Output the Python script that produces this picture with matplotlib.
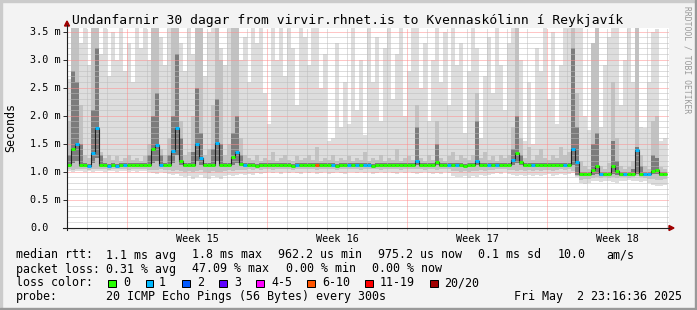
import numpy as np
import matplotlib
matplotlib.use("Agg")
import matplotlib.pyplot as plt
from matplotlib.patches import Rectangle, Polygon
from matplotlib.lines import Line2D
from matplotlib.transforms import blended_transform_factory, offset_copy

# --- data: 150 bins of 0.2 day (30 days), values in ms ---
med = [
    1.12, 1.40, 1.50, 1.12, 1.12, 1.11, 1.33, 1.78, 1.12, 1.12,
    1.11, 1.12, 1.11, 1.12, 1.12, 1.12, 1.13, 1.12, 1.12, 1.12,
    1.12, 1.40, 1.48, 1.13, 1.12, 1.12, 1.38, 1.79, 1.20, 1.12,
    1.12, 1.12, 1.49, 1.24, 1.12, 1.12, 1.12, 1.51, 1.13, 1.12,
    1.12, 1.26, 1.36, 1.14, 1.12, 1.12, 1.12, 1.11, 1.12, 1.12,
    1.12, 1.12, 1.13, 1.12, 1.12, 1.12, 1.11, 1.12, 1.12, 1.12,
    1.12, 1.12, 1.13, 1.12, 1.12, 1.12, 1.12, 1.11, 1.12, 1.12,
    1.12, 1.12, 1.12, 1.12, 1.12, 1.12, 1.11, 1.12, 1.12, 1.12,
    1.12, 1.12, 1.12, 1.13, 1.12, 1.12, 1.12, 1.20, 1.12, 1.12,
    1.12, 1.12, 1.17, 1.12, 1.12, 1.12, 1.12, 1.12, 1.12, 1.11,
    1.12, 1.12, 1.19, 1.12, 1.12, 1.12, 1.12, 1.12, 1.12, 1.12,
    1.12, 1.22, 1.34, 1.18, 1.12, 1.12, 1.12, 1.12, 1.12, 1.12,
    1.12, 1.12, 1.12, 1.12, 1.12, 1.12, 1.40, 1.18, 0.96, 0.96,
    0.96, 1.04, 1.11, 0.96, 0.96, 0.96, 1.11, 1.02, 0.96, 0.96,
    0.96, 0.96, 1.39, 0.96, 0.96, 0.96, 1.02, 1.03, 0.96, 0.96,
]
loss = [
    0, 0, 1, 0, 0, 1, 1, 1, 0, 0,
    1, 0, 1, 0, 1, 0, 0, 0, 0, 0,
    0, 0, 1, 1, 0, 0, 1, 1, 0, 0,
    0, 0, 1, 1, 0, 0, 0, 1, 0, 0,
    0, 0, 1, 0, 1, 0, 0, 0, 0, 0,
    0, 0, 0, 0, 0, 0, 0, 1, 0, 0,
    0, 0, 5, 0, 0, 0, 1, 0, 0, 0,
    1, 0, 1, 0, 1, 1, 0, 0, 0, 0,
    0, 0, 0, 0, 0, 0, 0, 1, 0, 0,
    0, 0, 0, 0, 0, 1, 0, 1, 0, 0,
    0, 0, 1, 0, 0, 1, 0, 1, 0, 0,
    0, 1, 0, 0, 0, 0, 1, 0, 0, 0,
    0, 0, 0, 0, 1, 0, 1, 1, 0, 0,
    0, 0, 0, 1, 0, 0, 0, 0, 0, 1,
    0, 0, 1, 0, 1, 1, 0, 0, 0, 0,
]
ping_min = [
    1.01, 1.00, 1.02, 1.01, 1.00, 1.01, 1.00, 1.02, 1.01, 1.00,
    1.01, 1.01, 1.00, 1.02, 1.01, 1.00, 1.01, 1.00, 1.01, 1.02,
    1.00, 0.98, 0.97, 0.99, 0.98, 0.96, 0.95, 0.97, 0.92, 0.90,
    0.93, 0.88, 0.91, 0.94, 0.89, 0.87, 0.92, 0.90, 0.88, 0.93,
    0.95, 0.92, 0.94, 0.96, 0.95, 0.97, 0.95, 0.98, 0.96, 0.98,
    0.99, 0.98, 0.99, 0.97, 0.99, 0.98, 0.99, 0.98, 0.97, 0.99,
    0.98, 0.99, 0.96, 0.98, 0.99, 0.97, 0.98, 0.99, 0.98, 0.97,
    0.99, 0.99, 0.98, 0.99, 0.98, 0.99, 0.97, 0.98, 0.99, 0.98,
    0.99, 0.98, 0.97, 0.99, 0.98, 0.99, 0.98, 0.97, 0.98, 0.99,
    0.98, 0.96, 0.98, 0.97, 0.99, 0.98, 0.93, 0.91, 0.90, 0.92,
    0.89, 0.93, 0.91, 0.94, 0.92, 0.95, 0.96, 0.98, 0.97, 0.99,
    0.96, 0.94, 0.93, 0.95, 0.92, 0.94, 0.93, 0.95, 0.92, 0.94,
    0.96, 0.93, 0.95, 0.97, 0.95, 0.96, 0.98, 0.90, 0.80, 0.79,
    0.81, 0.83, 0.84, 0.82, 0.84, 0.83, 0.82, 0.81, 0.84, 0.83,
    0.85, 0.84, 0.84, 0.82, 0.83, 0.80, 0.77, 0.74, 0.75, 0.76,
]
ping_p10 = [
    1.05, 1.04, 1.06, 1.05, 1.05, 1.04, 1.05, 1.06, 1.05, 1.05,
    1.04, 1.05, 1.05, 1.06, 1.05, 1.04, 1.05, 1.05, 1.06, 1.05,
    1.04, 1.03, 1.04, 1.05, 1.04, 1.03, 1.02, 1.04, 1.01, 1.00,
    1.02, 0.99, 1.01, 1.03, 1.00, 0.98, 1.01, 1.00, 0.99, 1.02,
    1.03, 1.01, 1.03, 1.04, 1.03, 1.05, 1.04, 1.05, 1.04, 1.05,
    1.05, 1.04, 1.05, 1.05, 1.06, 1.05, 1.04, 1.05, 1.05, 1.06,
    1.05, 1.05, 1.04, 1.05, 1.06, 1.05, 1.05, 1.04, 1.05, 1.05,
    1.06, 1.05, 1.05, 1.04, 1.05, 1.06, 1.05, 1.05, 1.04, 1.05,
    1.05, 1.06, 1.05, 1.04, 1.05, 1.05, 1.06, 1.05, 1.05, 1.04,
    1.05, 1.05, 1.04, 1.05, 1.06, 1.05, 1.02, 1.01, 1.00, 1.02,
    0.99, 1.02, 1.01, 1.03, 1.02, 1.04, 1.04, 1.05, 1.05, 1.06,
    1.04, 1.03, 1.02, 1.04, 1.02, 1.03, 1.02, 1.04, 1.02, 1.03,
    1.04, 1.02, 1.04, 1.05, 1.04, 1.05, 1.02, 0.92, 0.86, 0.87,
    0.88, 0.89, 0.90, 0.89, 0.90, 0.89, 0.90, 0.89, 0.90, 0.90,
    0.89, 0.90, 0.92, 0.90, 0.89, 0.88, 0.87, 0.86, 0.86, 0.87,
]
ping_p25 = [
    1.09, 1.15, 1.20, 1.09, 1.09, 1.08, 1.15, 1.25, 1.09, 1.09,
    1.08, 1.09, 1.08, 1.09, 1.09, 1.09, 1.10, 1.09, 1.09, 1.09,
    1.09, 1.15, 1.20, 1.10, 1.09, 1.09, 1.15, 1.30, 1.12, 1.09,
    1.09, 1.09, 1.20, 1.12, 1.09, 1.09, 1.09, 1.20, 1.10, 1.09,
    1.09, 1.12, 1.15, 1.10, 1.09, 1.09, 1.09, 1.08, 1.09, 1.09,
    1.09, 1.09, 1.10, 1.09, 1.09, 1.09, 1.08, 1.09, 1.09, 1.09,
    1.09, 1.09, 1.10, 1.09, 1.09, 1.09, 1.09, 1.08, 1.09, 1.09,
    1.09, 1.09, 1.09, 1.09, 1.09, 1.09, 1.08, 1.09, 1.09, 1.09,
    1.09, 1.09, 1.09, 1.10, 1.09, 1.09, 1.09, 1.12, 1.09, 1.09,
    1.09, 1.09, 1.12, 1.09, 1.09, 1.09, 1.09, 1.09, 1.09, 1.08,
    1.09, 1.09, 1.12, 1.09, 1.09, 1.09, 1.09, 1.09, 1.09, 1.09,
    1.09, 1.12, 1.15, 1.12, 1.09, 1.09, 1.09, 1.09, 1.09, 1.09,
    1.09, 1.09, 1.09, 1.09, 1.09, 1.09, 1.12, 0.95, 0.93, 0.93,
    0.93, 0.95, 0.96, 0.93, 0.93, 0.93, 0.96, 0.95, 0.93, 0.93,
    0.93, 0.93, 0.96, 0.93, 0.93, 0.93, 0.96, 0.96, 0.93, 0.93,
]
ping_p75 = [
    1.30, 2.80, 2.60, 1.50, 1.15, 1.14, 2.10, 3.20, 1.30, 1.15,
    1.14, 1.15, 1.14, 1.15, 1.15, 1.15, 1.16, 1.15, 1.15, 1.15,
    1.30, 2.00, 2.40, 1.30, 1.15, 1.30, 2.00, 3.10, 1.60, 1.15,
    1.15, 1.35, 2.50, 1.70, 1.15, 1.15, 1.40, 2.30, 1.50, 1.15,
    1.15, 1.70, 2.00, 1.30, 1.15, 1.15, 1.15, 1.14, 1.15, 1.15,
    1.15, 1.15, 1.16, 1.15, 1.15, 1.15, 1.14, 1.15, 1.15, 1.15,
    1.15, 1.15, 1.16, 1.15, 1.15, 1.15, 1.15, 1.14, 1.15, 1.15,
    1.15, 1.15, 1.15, 1.15, 1.15, 1.15, 1.14, 1.15, 1.15, 1.15,
    1.15, 1.15, 1.15, 1.16, 1.15, 1.15, 1.15, 1.80, 1.15, 1.15,
    1.15, 1.15, 1.50, 1.15, 1.15, 1.15, 1.15, 1.15, 1.15, 1.14,
    1.15, 1.15, 1.90, 1.15, 1.15, 1.15, 1.15, 1.15, 1.15, 1.15,
    1.15, 1.40, 2.00, 1.30, 1.15, 1.15, 1.15, 1.15, 1.15, 1.15,
    1.15, 1.15, 1.15, 1.15, 1.15, 1.15, 3.20, 1.80, 0.99, 0.99,
    0.99, 1.50, 1.70, 0.99, 0.99, 0.99, 1.55, 1.20, 0.99, 0.99,
    0.99, 1.05, 1.45, 1.10, 0.99, 0.99, 1.30, 1.25, 0.99, 0.99,
]
ping_p90 = [
    1.90, 3.60, 3.60, 2.20, 1.30, 1.25, 3.60, 3.60, 1.35, 1.25,
    1.30, 1.22, 1.28, 1.20, 1.25, 1.30, 1.22, 1.25, 1.20, 1.28,
    1.50, 3.60, 3.60, 1.40, 1.30, 1.60, 3.60, 3.60, 1.90, 1.30,
    1.35, 2.00, 3.60, 3.60, 1.30, 1.40, 2.20, 3.60, 3.00, 1.30,
    1.50, 3.60, 3.60, 1.60, 1.30, 1.25, 1.22, 1.30, 1.20, 1.25,
    1.22, 1.35, 1.20, 1.25, 1.30, 1.22, 1.20, 1.28, 1.22, 1.25,
    1.30, 1.22, 1.45, 1.20, 1.25, 1.22, 1.30, 1.20, 1.25, 1.22,
    1.28, 1.20, 1.25, 1.22, 1.35, 1.20, 1.25, 1.22, 1.30, 1.20,
    1.25, 1.22, 1.40, 1.20, 1.25, 1.28, 1.22, 2.20, 1.25, 1.20,
    1.30, 1.22, 1.90, 1.25, 1.20, 1.28, 1.35, 1.22, 1.30, 1.25,
    1.22, 1.30, 2.40, 1.25, 1.35, 1.22, 1.28, 1.20, 1.30, 1.25,
    1.30, 1.80, 3.60, 1.60, 1.25, 1.45, 1.22, 1.30, 1.40, 1.25,
    1.22, 1.30, 1.25, 1.45, 1.30, 1.35, 3.60, 2.40, 1.20, 1.10,
    1.05, 3.30, 3.60, 1.10, 1.05, 1.15, 2.60, 1.60, 1.10, 1.05,
    1.08, 1.20, 3.60, 1.30, 1.10, 1.05, 1.90, 2.00, 1.08, 1.05,
]
ping_max = [
    2.65, 3.60, 3.60, 3.30, 3.60, 2.90, 3.60, 3.60, 3.10, 3.60,
    2.70, 3.50, 3.00, 3.60, 2.80, 3.30, 2.60, 3.60, 3.20, 3.60,
    3.00, 3.60, 3.60, 3.40, 2.90, 3.60, 3.60, 3.60, 3.30, 2.80,
    3.60, 3.10, 3.60, 3.60, 2.70, 3.50, 3.60, 3.60, 3.20, 2.90,
    3.60, 3.60, 3.60, 3.00, 3.40, 2.60, 3.60, 3.30, 3.60, 2.40,
    1.85, 3.60, 3.00, 3.60, 2.70, 3.60, 3.20, 2.20, 3.60, 3.40,
    2.90, 3.60, 3.60, 2.50, 3.10, 1.55, 1.60, 3.30, 1.80, 2.60,
    1.85, 3.60, 2.10, 3.00, 1.65, 3.60, 2.60, 3.40, 1.90, 3.20,
    3.60, 2.30, 3.10, 3.60, 2.00, 2.80, 3.60, 3.60, 2.50, 3.30,
    1.90, 3.00, 3.60, 2.60, 3.50, 2.20, 3.60, 2.90, 3.30, 1.70,
    2.80, 3.60, 3.20, 1.60, 2.70, 3.40, 2.40, 3.60, 2.90, 2.10,
    3.30, 3.60, 3.60, 3.00, 1.55, 2.60, 1.50, 3.20, 2.80, 3.60,
    2.30, 3.50, 1.85, 2.90, 3.60, 3.60, 3.60, 3.60, 3.60, 2.00,
    1.75, 3.30, 3.60, 1.80, 2.90, 3.40, 3.60, 3.60, 2.20, 3.00,
    3.60, 2.60, 3.60, 1.80, 1.78, 2.60, 3.50, 3.55, 1.55, 1.60,
]

loss_labels = ["0", "1", "2", "3", "4-5", "6-10", "11-19", "20/20"]
loss_colors = ["#26ff00", "#00b8ff", "#0059ff", "#5e00ff",
               "#ff00ff", "#ff5500", "#ff0000", "#a10000"]
week_starts = [3, 10, 17, 24]
week_labels = ["Week 15", "Week 16", "Week 17", "Week 18"]
y_ticks = [0.0, 0.5, 1.0, 1.5, 2.0, 2.5, 3.0, 3.5]
y_labels = ["0.0", "0.5 m", "1.0 m", "1.5 m", "2.0 m", "2.5 m", "3.0 m", "3.5 m"]

title = "Undanfarnir 30 dagar from virvir.rhnet.is to Kvennaskólinn í Reykjavík"

W, H = 697, 310
plt.rcParams["font.family"] = "DejaVu Sans Mono"
plt.rcParams["lines.scale_dashes"] = False

fig = plt.figure(figsize=(W / 100, H / 100), dpi=100, facecolor="#f3f3f3")


def fx(x):
    return x / W


def fy(y):
    return 1 - y / H


ax = fig.add_axes([fx(67), fy(228), 602 / W, 200 / H])
ax.set_xlim(0, 30.1)
ax.set_ylim(0, 3.564)
ax.set_facecolor("white")
for s in ax.spines.values():
    s.set_visible(False)

edges = np.linspace(0, 30, len(med) + 1)

# smoke
ax.stairs(ping_max, edges, baseline=ping_min, fill=True, color="#dddddd", lw=0, zorder=1)
ax.stairs(ping_p90, edges, baseline=ping_p10, fill=True, color="#c2c2c2", lw=0, zorder=1.1)
ax.stairs(ping_p75, edges, baseline=ping_p25, fill=True, color="#7c7c7c", lw=0, zorder=1.2)

# grid (dotted, 1px on / 1px off)
dot = (0, (0.72, 0.72))
for i in range(1, 36):
    major = i % 5 == 0
    ax.axhline(i / 10, color="#ff8c8c" if major else "#bdbdbd", lw=0.72,
               ls=dot, zorder=3, snap=True)
for d in range(1, 31):
    major = d in week_starts
    ax.axvline(d, color="#ff8c8c" if major else "#bdbdbd", lw=0.72,
               ls=dot, zorder=3, snap=True)

# median: thin dark line, then loss-coloured segments
ax.stairs(med, edges, baseline=None, color="#202020", lw=0.8, zorder=4)
ax.hlines(med, edges[:-1], edges[1:], colors=[loss_colors[i] for i in loss],
          lw=2.16, zorder=5)

# ticks
ax.set_yticks(y_ticks)
ax.tick_params(axis="y", which="major", length=3, width=0.72, color="#303030",
               labelleft=False)
ax.set_xticks([w + 3.5 for w in week_starts], labels=week_labels)
ax.tick_params(axis="x", which="major", length=0, pad=4.5, labelsize=7.3)
ax.set_xticks(range(1, 30), minor=True)
ax.tick_params(axis="x", which="minor", length=1.5, width=0.72, color="#b0b0b0")
for t, d in zip(ax.xaxis.get_minor_ticks(), range(1, 30)):
    if d in week_starts:
        t.tick1line.set_color("#ff0000")

base = blended_transform_factory(ax.transAxes, ax.transData)
for v, lab in zip(y_ticks, y_labels):
    off = -18.5 if v == 0 else -6.5
    ax.text(0, v, lab, transform=offset_copy(base, fig=fig, x=off, y=0, units="dots"),
            ha="right", va="center", fontsize=7.3)

# axis lines with arrows
fig.add_artist(Line2D([fx(63), fx(669)], [fy(228), fy(228)], color="#202020", lw=0.8))
fig.add_artist(Line2D([fx(67), fx(67)], [fy(230), fy(25)], color="#202020", lw=0.8))
fig.add_artist(Polygon([[fx(64.5), fy(26)], [fx(69.5), fy(26)], [fx(67), fy(21)]],
                       closed=True, color="#a00000", transform=fig.transFigure))
fig.add_artist(Polygon([[fx(669), fy(225.5)], [fx(669), fy(230.5)], [fx(674), fy(228)]],
                       closed=True, color="#a00000", transform=fig.transFigure))

# texts
fig.text(fx(348), fy(24), title, ha="center", va="baseline", fontsize=9.4)
fig.text(fx(10.5), fy(127), "Seconds", rotation=90, ha="center", va="center", fontsize=8.4)
fig.text(fx(686.5), fy(60), "RRDTOOL / TOBI OETIKER", rotation=-90, ha="center",
         va="center", fontsize=5.8, color="#999999")

fs = 8.4
row1 = [("median rtt:", 16), ("1.1 ms avg", 106.3), ("1.8 ms max", 192.3),
        ("962.2 us min", 278.3), ("975.2 us now", 378.3), ("0.1 ms sd", 478.3),
        ("10.0", 557.3), ("am/s", 606)]
row2 = [("packet loss:", 16), ("0.31 % avg", 106.3), ("47.09 % max", 192.3),
        ("0.00 % min", 285.8), ("0.00 % now", 372.5)]
for txt, x in row1:
    fig.text(fx(x), fy(258.5), txt, va="baseline", fontsize=fs)
for txt, x in row2:
    fig.text(fx(x), fy(272.5), txt, va="baseline", fontsize=fs)

fig.text(fx(16), fy(286.3), "loss color:", va="baseline", fontsize=fs)
box_x = [108.3, 145.7, 182.3, 219, 256, 307.3, 365, 430]
lab_x = [123.3, 159, 197.3, 234.3, 271, 322, 379.3, 444.3]
for bx, lx, lab, col in zip(box_x, lab_x, loss_labels, loss_colors):
    fig.add_artist(Rectangle((fx(bx), fy(287)), 7.5 / W, 7.5 / H, facecolor=col,
                             edgecolor="black", lw=0.72, transform=fig.transFigure))
    fig.text(fx(lx), fy(286.3), lab, va="baseline", fontsize=fs)

fig.text(fx(16), fy(300), "probe:", va="baseline", fontsize=fs)
fig.text(fx(106.3), fy(300), "20 ICMP Echo Pings (56 Bytes) every 300s",
         va="baseline", fontsize=fs)
fig.text(fx(681.5), fy(300), "Fri May  2 23:16:36 2025", ha="right",
         va="baseline", fontsize=fs)

# 3d frame
fig.add_artist(Rectangle((0, 1 - 2 / H), 1, 2 / H, color="#cbcbcb", transform=fig.transFigure))
fig.add_artist(Rectangle((0, 0), 2 / W, 1, color="#cbcbcb", transform=fig.transFigure))
fig.add_artist(Rectangle((1 - 2 / W, 0), 2 / W, 1, color="#999999", transform=fig.transFigure))
fig.add_artist(Rectangle((0, 0), 1, 2 / H, color="#999999", transform=fig.transFigure))

fig.savefig("out.png", dpi=100, facecolor=fig.get_facecolor())
